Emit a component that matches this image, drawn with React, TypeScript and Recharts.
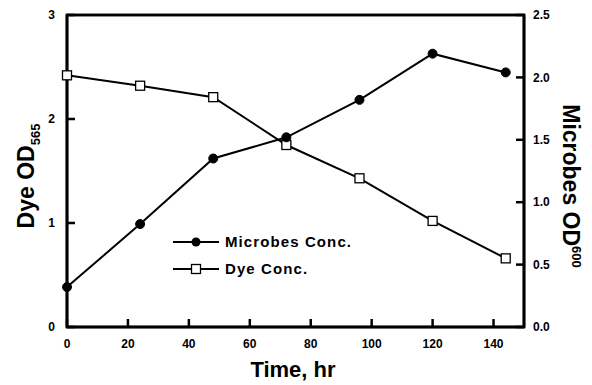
import React from 'react';
import { LineChart, Line, XAxis, YAxis, ReferenceArea } from 'recharts';

const timeHr = [0, 24, 48, 72, 96, 120, 144];
const dyeOD = [2.42, 2.32, 2.21, 1.75, 1.43, 1.02, 0.66];
const microbesOD = [0.32, 0.825, 1.35, 1.52, 1.82, 2.19, 2.04];
const xTicks = [0, 20, 40, 60, 80, 100, 120, 140];
const leftTicks = [0, 1, 2, 3];
const rightTicks = [0, 0.5, 1, 1.5, 2, 2.5];

const data = timeHr.map((t, i) => ({ t, dye: dyeOD[i], microbes: microbesOD[i] }));

const FONT = '"Liberation Sans", Arial, Helvetica, sans-serif';
const tickStyle = { fill: '#000', fontSize: 12, fontWeight: 700, fontFamily: FONT };
const axisLineStyle = { stroke: '#000', strokeWidth: 2.5 };
const tickLineStyle = { stroke: '#000', strokeWidth: 2.5 };

const SquareDot = (p: any) => {
  if (p.cx == null || p.cy == null) return <g key={p.index} />;
  return (
    <rect key={p.index} x={p.cx - 4.5} y={p.cy - 4.5} width={9} height={9} fill="#fff" stroke="#000" strokeWidth={1.3} />
  );
};

const PLOT = { left: 67, top: 15, right: 524, bottom: 327 };

export default function App() {
  return (
    <div style={{ position: 'absolute', left: 0, top: 0, width: 592, height: 385, background: '#fff' }}>
      <LineChart width={592} height={385} data={data} margin={{ top: PLOT.top, right: 0, left: 0, bottom: 0 }}>
        <XAxis
          dataKey="t"
          type="number"
          domain={[0, 150]}
          ticks={xTicks}
          height={58}
          stroke="#000"
          strokeWidth={2.5}
          axisLine={axisLineStyle}
          tickLine={tickLineStyle}
          tickSize={-8}
          tickMargin={20}
          tick={tickStyle}
        />
        <YAxis
          yAxisId="left"
          domain={[0, 3]}
          ticks={leftTicks}
          width={67}
          stroke="#000"
          strokeWidth={2.5}
          axisLine={axisLineStyle}
          tickLine={tickLineStyle}
          tickSize={-8}
          tickMargin={20}
          tick={tickStyle}
        />
        <YAxis
          yAxisId="right"
          orientation="right"
          domain={[0, 2.5]}
          ticks={rightTicks}
          width={68}
          stroke="#000"
          strokeWidth={2.5}
          axisLine={axisLineStyle}
          tickLine={tickLineStyle}
          tickSize={-8}
          tickMargin={17}
          tick={{ ...tickStyle, textAnchor: 'start' }}
          tickFormatter={(v: number) => v.toFixed(1)}
        />
        <ReferenceArea yAxisId="left" x1={0} x2={150} y1={0} y2={3} fill="none" fillOpacity={0} stroke="#000" strokeOpacity={1} strokeWidth={2.5} ifOverflow="visible" />
        <Line
          yAxisId="left"
          dataKey="dye"
          stroke="#000"
          strokeWidth={2}
          dot={SquareDot}
          activeDot={false}
          isAnimationActive={false}
        />
        <Line
          yAxisId="right"
          dataKey="microbes"
          stroke="#000"
          strokeWidth={2}
          dot={{ r: 4.5, fill: '#000', stroke: '#000', strokeWidth: 1 }}
          activeDot={false}
          isAnimationActive={false}
        />
        <g fontFamily={FONT} fontWeight={700} fill="#000">
          <rect
            x={PLOT.left}
            y={PLOT.top}
            width={PLOT.right - PLOT.left}
            height={PLOT.bottom - PLOT.top}
            fill="none"
            stroke="#000"
            strokeWidth={2.5}
          />
          <text transform="translate(34,176) rotate(-90)" textAnchor="middle" fontSize={23}>
            Dye OD<tspan fontSize={13} dy={6}>565</tspan>
          </text>
          <text transform="translate(563,186) rotate(90)" textAnchor="middle" fontSize={23}>
            Microbes OD<tspan fontSize={13} dy={-9}>600</tspan>
          </text>
          <text x={293} y={377} textAnchor="middle" fontSize={22}>Time, hr</text>
          <line x1={173} y1={242} x2={219} y2={242} stroke="#000" strokeWidth={2} />
          <circle cx={196} cy={242} r={4.5} fill="#000" />
          <text x={225} y={247} fontSize={15} letterSpacing={1.1}>Microbes Conc.</text>
          <line x1={173} y1={269} x2={219} y2={269} stroke="#000" strokeWidth={2} />
          <rect x={191.5} y={264.5} width={9} height={9} fill="#fff" stroke="#000" strokeWidth={1.3} />
          <text x={225} y={274} fontSize={15} letterSpacing={1.1}>Dye Conc.</text>
        </g>
      </LineChart>
    </div>
  );
}
